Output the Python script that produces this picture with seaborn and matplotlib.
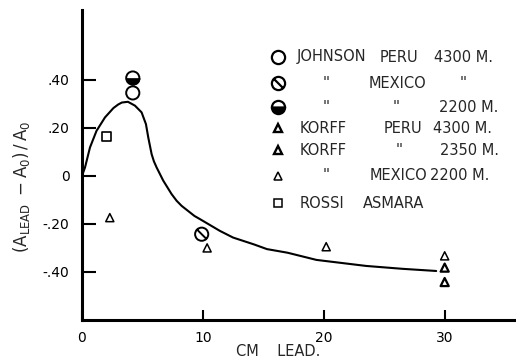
import matplotlib
matplotlib.use("Agg")
import matplotlib.pyplot as plt
import seaborn as sns
from matplotlib.path import Path

# ---------------- data ----------------
curve_x = [0.0, 0.25, 0.66, 1.2, 1.9, 2.6, 3.0, 3.3, 3.8, 4.38, 4.93, 5.29,
           5.48, 5.62, 5.76, 5.95, 6.17, 6.72, 7.41, 7.83, 8.24, 9.3, 9.75,
           11.4, 12.5, 14.2, 15.3, 17.0, 19.4, 23.5, 26.5, 29.3]
curve_y = [0.0, 0.035, 0.118, 0.187, 0.243, 0.282, 0.297, 0.305, 0.308, 0.292,
           0.264, 0.215, 0.16, 0.125, 0.09, 0.06, 0.035, -0.02, -0.076, -0.104,
           -0.125, -0.167, -0.18, -0.229, -0.257, -0.285, -0.305, -0.32,
           -0.35, -0.375, -0.387, -0.396]

johnson_peru_4300_x = [4.2]
johnson_peru_4300_y = [0.345]
johnson_mexico_4300_x = [9.9]
johnson_mexico_4300_y = [-0.243]
johnson_mexico_2200_x = [4.2]
johnson_mexico_2200_y = [0.407]
korff_peru_4300_x = [30.0]
korff_peru_4300_y = [-0.382]
korff_2350_x = [30.0]
korff_2350_y = [-0.442]
korff_mexico_2200_x = [2.3, 10.35, 20.2, 30.0]
korff_mexico_2200_y = [-0.174, -0.30, -0.295, -0.333]
rossi_asmara_x = [2.04]
rossi_asmara_y = [0.163]

x_ticks = [0, 10, 20, 30]
x_tick_labels = ["0", "10", "20", "30"]
y_ticks = [-0.4, -0.2, 0.0, 0.2, 0.4]
y_tick_labels = ["-.40", "-.20", "0", ".20", ".40"]

x_label = "CM    LEAD."
y_label = r"$\mathsf{(A_{LEAD}\ -A_{0})\,/\,A_{0}}$"

legend_rows = [
    ["JOHNSON", "PERU", "4300 M."],
    ["''", "MEXICO", "''"],
    ["''", "''", "2200 M."],
    ["KORFF", "PERU", "4300 M."],
    ["KORFF", "''", "2350 M."],
    ["''", "MEXICO", "2200 M."],
    ["ROSSI", "ASMARA", ""],
]

# ---------------- style ----------------
sns.set_theme(style="white")
plt.rcParams["font.family"] = ["DejaVu Sans"]
plt.rcParams["mathtext.fontset"] = "dejavusans"

W, H = 516, 360
fig = plt.figure(figsize=(W / 100, H / 100), dpi=100)
ax = fig.add_axes([82 / W, 40 / H, 434 / W, 310 / H])

slash_marker = Path.make_compound_path(
    Path.unit_circle(), Path([[-0.72, 0.72], [0.72, -0.72]]))
half_marker = Path.wedge(180, 360)

# curve
sns.lineplot(x=curve_x, y=curve_y, sort=False, estimator=None, color="black",
             lw=1.5, ax=ax)

# circles
sns.scatterplot(x=johnson_peru_4300_x, y=johnson_peru_4300_y, marker="o", s=90,
                facecolor="none", edgecolor="black", linewidth=1.4, ax=ax)
sns.scatterplot(x=johnson_mexico_4300_x, y=johnson_mexico_4300_y,
                marker=slash_marker, s=90, facecolor="none", edgecolor="black",
                linewidth=1.4, ax=ax)
sns.scatterplot(x=johnson_mexico_2200_x, y=johnson_mexico_2200_y,
                marker=half_marker, s=90, facecolor="black", edgecolor="black",
                linewidth=0.5, ax=ax)
sns.scatterplot(x=johnson_mexico_2200_x, y=johnson_mexico_2200_y, marker="o",
                s=90, facecolor="none", edgecolor="black", linewidth=1.4, ax=ax)
# triangles
sns.scatterplot(x=korff_peru_4300_x, y=korff_peru_4300_y, marker="^", s=34,
                facecolor="none", edgecolor="black", linewidth=1.6, ax=ax)
sns.scatterplot(x=korff_2350_x, y=korff_2350_y, marker="^", s=34,
                facecolor="none", edgecolor="black", linewidth=1.6, ax=ax)
sns.scatterplot(x=korff_mexico_2200_x, y=korff_mexico_2200_y, marker="^", s=34,
                facecolor="none", edgecolor="black", linewidth=1.1, ax=ax)
# square
sns.scatterplot(x=rossi_asmara_x, y=rossi_asmara_y, marker="s", s=48,
                facecolor="none", edgecolor="black", linewidth=1.2, ax=ax)

# axes
ax.set_xlim(0, 35.9)
ax.set_ylim(-0.60, 0.69)
for side in ["top", "right"]:
    ax.spines[side].set_visible(False)
for side in ["left", "bottom"]:
    ax.spines[side].set_linewidth(2.2)
    ax.spines[side].set_color("black")
ax.set_xticks(x_ticks)
ax.set_xticklabels(x_tick_labels)
ax.set_yticks(y_ticks)
ax.set_yticklabels(y_tick_labels)
ax.tick_params(axis="both", direction="in", color="black", labelcolor="black",
               labelsize=10)
ax.tick_params(axis="y", length=10, width=1.5, pad=9, left=True)
ax.tick_params(axis="x", length=7, width=1.5, pad=8, bottom=True)
ax.set_xlabel("")
ax.set_ylabel("")
ax.grid(False)

fig.text(278 / W, 1 - 352 / H, x_label, ha="center", va="center", fontsize=10.5)
fig.text(22 / W, 1 - 187 / H, y_label, ha="center", va="center", fontsize=12,
         rotation=90)

# legend (hand-placed like the original lettering)
row_py = [57, 83, 107, 128, 150, 176, 203]
col_px = [
    [297, 380, 434],
    [323, 369, 460],
    [323, 393, 439],
    [300, 384, 433],
    [300, 396, 440],
    [323, 370, 430],
    [300, 363, 0],
]
key_px = 278
key_styles = [
    dict(marker="o", ms=9.5, mfc="none", mec="black", mew=1.6),
    dict(marker=slash_marker, ms=9.5, mfc="none", mec="black", mew=1.6),
    dict(marker="o", ms=9.5, mfc="black", mec="black", mew=1.6,
         fillstyle="bottom", markerfacecoloralt="white"),
    dict(marker="^", ms=6, mfc="none", mec="black", mew=1.7),
    dict(marker="^", ms=6, mfc="none", mec="black", mew=1.7),
    dict(marker="^", ms=6, mfc="none", mec="black", mew=1.1),
    dict(marker="s", ms=6, mfc="none", mec="black", mew=1.1),
]
for py, texts, cols, st in zip(row_py, legend_rows, col_px, key_styles):
    ax.plot([key_px / W], [1 - py / H], transform=fig.transFigure,
            clip_on=False, ls="none", **st)
    for t, px in zip(texts, cols):
        if t:
            fig.text(px / W, 1 - py / H, t, ha="left", va="center",
                     fontsize=10.5)

fig.savefig("out.png", dpi=100)
